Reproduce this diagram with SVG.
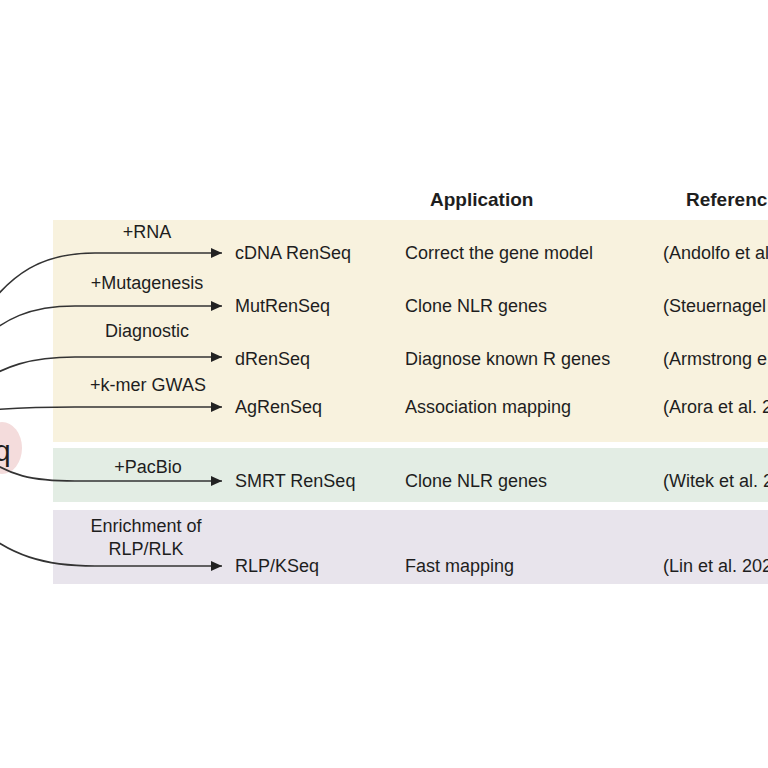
<svg xmlns="http://www.w3.org/2000/svg" width="768" height="768" viewBox="0 0 768 768">
<style>
text{font-family:"Liberation Sans",Arial,sans-serif;fill:#1e1e1e;font-size:18px}
.h{font-weight:bold;font-size:19px}
.m{text-anchor:middle}
.c{fill:none;stroke:#333;stroke-width:1.6}
</style>
<defs>
<marker id="ah" viewBox="0 0 10 10" refX="10" refY="5" markerWidth="11" markerHeight="11" markerUnits="userSpaceOnUse" orient="auto">
<path d="M0,0.5 L10,5 L0,9.5 z" fill="#222"/>
</marker>
</defs>
<rect width="768" height="768" fill="#fff"/>
<g id="panels">
<rect x="53" y="220" width="715" height="222" fill="#f8f2de"/>
<rect x="53" y="448" width="715" height="54" fill="#e3ede4"/>
<rect x="53" y="510" width="715" height="74" fill="#e8e4ec"/>
</g>
<g id="origin">
<ellipse cx="2" cy="448" rx="20" ry="26" fill="#f4dcdc"/>
<text x="-6" y="461" style="font-size:30px">q</text>
</g>
<g id="header">
<text class="h" x="430" y="206">Application</text>
<text class="h" x="686" y="206">Referenc</text>
</g>
<g id="connectors">
<path class="c" marker-end="url(#ah)" d="M-25,325 C10,270 45,253 95,253 H222"/>
<path class="c" marker-end="url(#ah)" d="M-25,345 C5,318 30,306 75,306 H222"/>
<path class="c" marker-end="url(#ah)" d="M-25,385 C5,366 30,357 75,357 H222"/>
<path class="c" marker-end="url(#ah)" d="M-10,410 C15,408 40,407 75,407 H222"/>
<path class="c" marker-end="url(#ah)" d="M-15,458 C10,475 30,481 75,481 H222"/>
<path class="c" marker-end="url(#ah)" d="M-25,525 C10,556 45,566 95,566 H222"/>
</g>
<g id="row-cdna">
<text class="m" x="147" y="238">+RNA</text>
<text x="235" y="259">cDNA RenSeq</text>
<text x="405" y="259">Correct the gene model</text>
<text x="663" y="259">(Andolfo et al</text>
</g>
<g id="row-mut">
<text class="m" x="147" y="289">+Mutagenesis</text>
<text x="235" y="312">MutRenSeq</text>
<text x="405" y="312">Clone NLR genes</text>
<text x="663" y="312">(Steuernagel</text>
</g>
<g id="row-d">
<text class="m" x="147" y="337">Diagnostic</text>
<text x="235" y="365">dRenSeq</text>
<text x="405" y="365">Diagnose known R genes</text>
<text x="663" y="365">(Armstrong e</text>
</g>
<g id="row-ag">
<text class="m" x="148" y="391">+k-mer GWAS</text>
<text x="235" y="413">AgRenSeq</text>
<text x="405" y="413">Association mapping</text>
<text x="663" y="413">(Arora et al. 2</text>
</g>
<g id="row-smrt">
<text class="m" x="148" y="473">+PacBio</text>
<text x="235" y="487">SMRT RenSeq</text>
<text x="405" y="487">Clone NLR genes</text>
<text x="663" y="487">(Witek et al. 2</text>
</g>
<g id="row-rlp">
<text class="m" x="146" y="532">Enrichment of</text>
<text class="m" x="146" y="555">RLP/RLK</text>
<text x="235" y="572">RLP/KSeq</text>
<text x="405" y="572">Fast mapping</text>
<text x="663" y="572">(Lin et al. 202</text>
</g>
</svg>
